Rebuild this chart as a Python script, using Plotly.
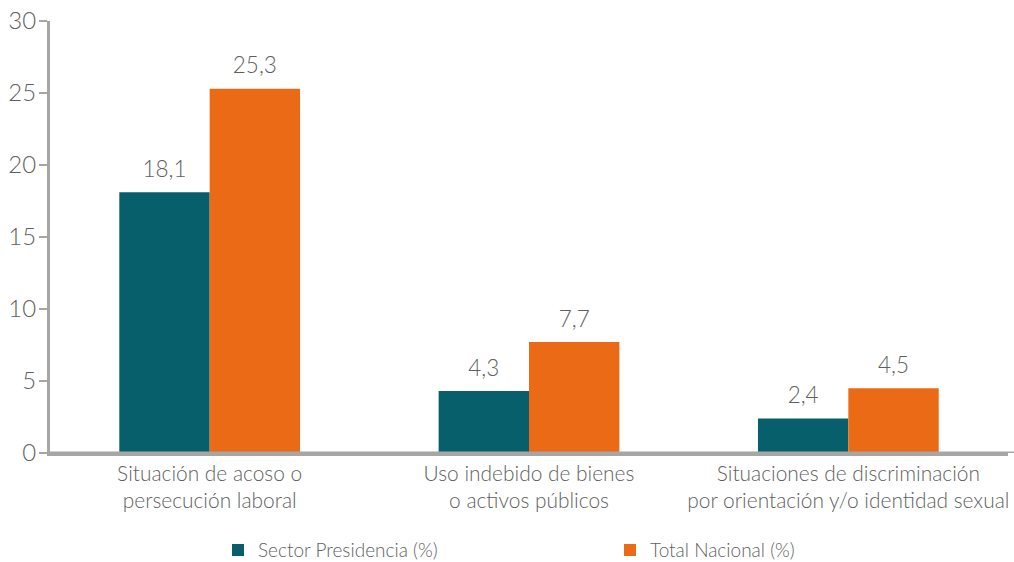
import plotly.graph_objects as go

categories = ["Situación de acoso o<br>persecución laboral",
              "Uso indebido de bienes<br>o activos públicos",
              "Situaciones de discriminación<br>por orientación y/o identidad sexual"]
sector_presidencia = [18.1, 4.3, 2.4]
total_nacional = [25.3, 7.7, 4.5]
series_names = ["Sector Presidencia (%)", "Total Nacional (%)"]
y_ticks = [0, 5, 10, 15, 20, 25, 30]

TEAL = "#065F6B"
ORANGE = "#EA6A16"
TXT = "#5f5f5f"
AXIS = "#a6a6a6"
FONT = "Lato"
GAP = 0.434

fig = go.Figure()
series = [(sector_presidencia, series_names[0], TEAL, "a"),
          (total_nacional, series_names[1], ORANGE, "b")]
for vals, name, col, og in series:
    fig.add_trace(go.Bar(x=categories, y=vals, name=name, offsetgroup=og,
                         marker=dict(color=col, line=dict(width=0)),
                         cliponaxis=False))
for vals, name, col, og in series:
    fig.add_trace(go.Scatter(x=categories, y=vals, offsetgroup=og, mode="markers+text",
                             text=[f"{v:.1f}".replace(".", ",") for v in vals],
                             textposition="top center", showlegend=False,
                             marker=dict(size=14, opacity=0),
                             textfont=dict(size=22.5, color=TXT, family=FONT, weight=300),
                             hoverinfo="skip", cliponaxis=False))

# extend the baseline to the right page edge, as in the reference
fig.add_shape(type="line", xref="paper", yref="y", x0=0, x1=1.01, y0=0, y1=0,
              line=dict(color=AXIS, width=3), layer="above")

fig.update_layout(
    width=1014, height=562,
    margin=dict(l=50, r=6, t=21, b=109, autoexpand=False),
    paper_bgcolor="white", plot_bgcolor="white",
    separators=",.",
    barmode="group", bargap=GAP, bargroupgap=0,
    scattermode="group", scattergap=GAP,
    font=dict(family=FONT, color=TXT, size=20, weight=300),
    showlegend=True,
    legend=dict(orientation="h", xref="container", yref="container",
                x=0.215, xanchor="left", y=0.021, yanchor="middle",
                entrywidth=347, entrywidthmode="pixels",
                font=dict(size=19, color=TXT, family=FONT, weight=300),
                itemsizing="constant"),
    xaxis=dict(showline=True, linecolor=AXIS, linewidth=3, automargin=False,
               ticks="", tickfont=dict(size=20.9, color=TXT, family=FONT, weight=300),
               showgrid=False),
    yaxis=dict(range=[0, 30], tickvals=y_ticks, showline=True, linecolor=AXIS,
               linewidth=3, ticks="outside", ticklen=8, tickwidth=2, tickcolor=AXIS,
               automargin=False, ticklabelstandoff=-2, ticklabeloverflow="allow",
               tickfont=dict(size=24, color=TXT, family=FONT, weight=300),
               showgrid=False, zeroline=False),
)

fig.write_html("out.html", config={"displayModeBar": False},
               post_script="document.body.style.margin='0';document.body.style.overflow='hidden';")
